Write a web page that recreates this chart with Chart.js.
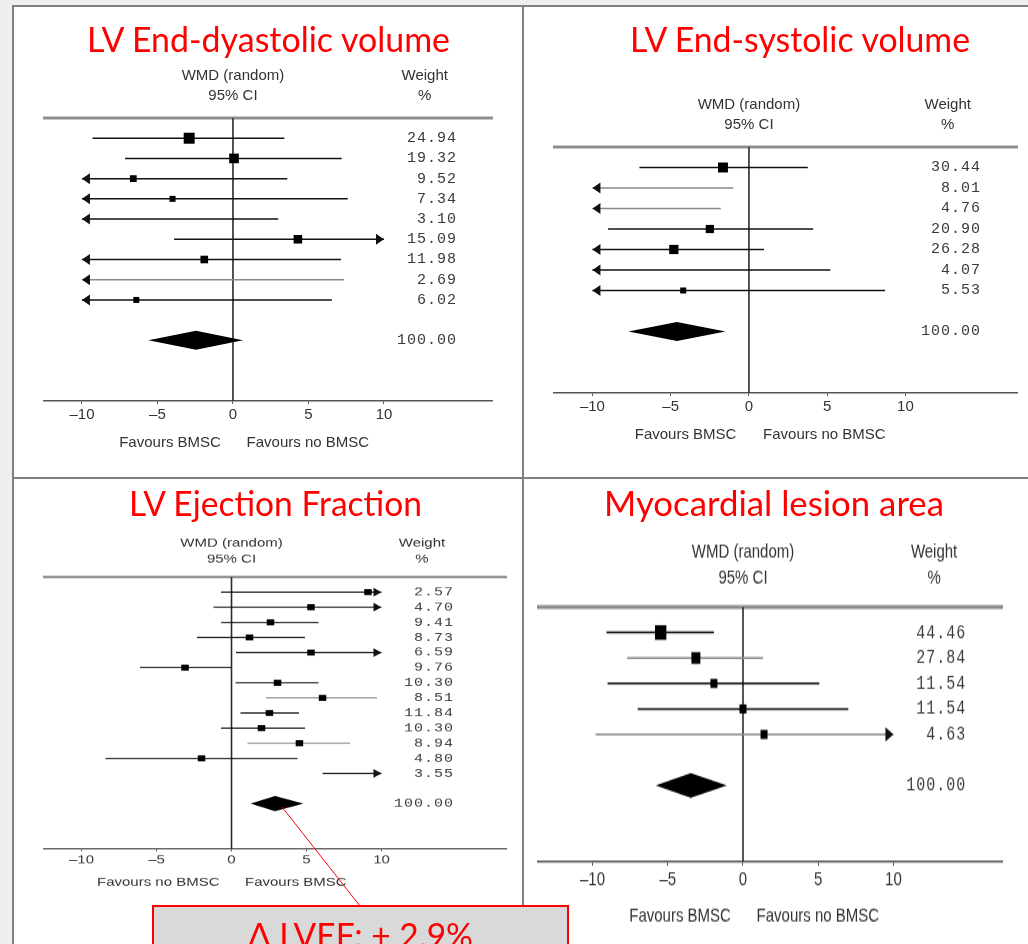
<!DOCTYPE html>
<html>
<head>
<meta charset="utf-8">
<script src="https://cdn.jsdelivr.net/npm/chart.js@4.4.1/dist/chart.umd.min.js"></script>
<style>
  html, body { margin: 0; padding: 0; }
  body {
    width: 1028px; height: 944px; overflow: hidden; position: relative;
    background: #efefef; font-family: 'Liberation Sans', Arial, sans-serif;
  }
  #sheet {
    position: absolute; left: 12px; top: 5px; width: 1100px; height: 1100px;
    background: #fff; border-left: 2px solid #7f7f7f; border-top: 2px solid #7f7f7f;
  }
  .vline { position: absolute; left: 522px; top: 5px; width: 2px; height: 1000px; background: #7f7f7f; }
  .hline { position: absolute; left: 12px; top: 477px; width: 1100px; height: 2px; background: #7f7f7f; }
  .panel { position: absolute; transform-origin: 0 0; }
  .panel canvas { display: block; }
  #overlay { position: absolute; left: 0; top: 0; }
</style>
</head>
<body>
<div id="sheet"></div>
<div class="vline"></div>
<div class="hline"></div>

<div class="panel" id="p-edv"><canvas id="c-edv"></canvas></div>
<div class="panel" id="p-esv"><canvas id="c-esv"></canvas></div>
<div class="panel" id="p-ef"><canvas id="c-ef"></canvas></div>
<div class="panel" id="p-les"><canvas id="c-les"></canvas></div>

<svg id="overlay" width="1028" height="944">
  <g font-family="Lato, 'Open Sans', sans-serif" fill="#ff0000" font-size="34">
    <text x="87" y="52" textLength="363" lengthAdjust="spacingAndGlyphs">LV End-dyastolic volume</text>
    <text x="630" y="52" textLength="340" lengthAdjust="spacingAndGlyphs">LV End-systolic volume</text>
    <text x="129" y="516" textLength="293" lengthAdjust="spacingAndGlyphs">LV Ejection Fraction</text>
    <text x="604" y="516" textLength="340" lengthAdjust="spacingAndGlyphs">Myocardial lesion area</text>
  </g>
  <line x1="282" y1="807" x2="360" y2="906" stroke="#ff0000" stroke-width="1"/>
  <rect x="153" y="906" width="415" height="60" fill="#d9d9d9" stroke="#ff0000" stroke-width="2"/>
  <text x="248" y="948" font-family="Lato, 'Open Sans', sans-serif" font-size="34" fill="#ff0000"
        textLength="225" lengthAdjust="spacingAndGlyphs">Δ LVEF: + 2.9%</text>
</svg>

<script>
// --- Data (null = beyond the -10..10 axis, drawn as an arrow / no box) ---
const tickValues = [-10, -5, 0, 5, 10];

// LV end-diastolic volume
const edvEst = [-2.9, 0.07, -6.6, -4.0, null, 4.3, -1.9, null, -6.4];
const edvLow = [-9.3, -7.15, null, null, null, -3.9, null, null, null];
const edvHigh = [3.4, 7.2, 3.6, 7.6, 3.0, null, 7.15, 7.35, 6.55];
const edvWeight = ['24.94', '19.32', '9.52', '7.34', '3.10', '15.09', '11.98', '2.69', '6.02'];
const edvPooled = [-5.6, -2.45, 0.66];

// LV end-systolic volume
const esvEst = [-1.66, null, null, -2.5, -4.8, null, -4.2];
const esvLow = [-7.0, null, null, -9.0, null, null, null];
const esvHigh = [3.76, -1.0, -1.8, 4.1, 0.96, 5.2, 8.7];
const esvWeight = ['30.44', '8.01', '4.76', '20.90', '26.28', '4.07', '5.53'];
const esvPooled = [-7.7, -4.6, -1.5];

// LV ejection fraction
const efEst = [9.1, 5.3, 2.6, 1.2, 5.3, -3.1, 3.07, 6.07, 2.53, 2.0, 4.53, -2.0, null];
const efLow = [-0.7, -1.2, -0.7, -2.3, 0.3, -6.1, 0.27, 2.3, 0.6, -0.7, 1.07, -8.4, 6.07];
const efHigh = [null, null, 5.8, 4.9, null, 0.0, 5.8, 9.7, 4.5, 4.9, 7.9, 4.4, null];
const efWeight = ['2.57', '4.70', '9.41', '8.73', '6.59', '9.76', '10.30', '8.51', '11.84', '10.30', '8.94', '4.80', '3.55'];
const efPooled = [1.27, 2.9, 4.8];

// Myocardial lesion area
const lesEst = [-5.47, -3.13, -1.93, 0.0, 1.4];
const lesLow = [-9.07, -7.7, -9.0, -7.0, -9.8];
const lesHigh = [-1.93, 1.33, 5.07, 7.0, null];
const lesWeight = ['44.46', '27.84', '11.54', '11.54', '4.63'];
const lesPooled = [-5.8, -3.47, -1.07];

const PAD_TOP = 60;
const AXIS_H = 60;

const panels = [
  { id: 'edv', left: 43, right: 493, headerY: 118, axisY: 401, sy: 1, xMin: -12.58, xMax: 17.22,
    est: edvEst, low: edvLow, high: edvHigh, weight: edvWeight, pooled: edvPooled,
    grey: [7], sq: { k: 2.2, min: 6 }, favours: ['Favours BMSC', 'Favours no BMSC'] },
  { id: 'esv', left: 553, right: 1018, headerY: 147, axisY: 393, sy: 1, xMin: -12.52, xMax: 17.19,
    est: esvEst, low: esvLow, high: esvHigh, weight: esvWeight, pooled: esvPooled,
    grey: [1, 2], sq: { k: 1.8, min: 6 }, favours: ['Favours BMSC', 'Favours no BMSC'] },
  { id: 'ef', left: 43, right: 507, headerY: 577, axisY: 849, sy: 0.8, xMin: -12.57, xMax: 18.37,
    est: efEst, low: efLow, high: efHigh, weight: efWeight, pooled: efPooled,
    grey: [7, 10], sq: { k: 1.5, min: 7.5 }, favours: ['Favours no BMSC', 'Favours BMSC'] },
  { id: 'les', left: 537, right: 1003, headerY: 607, axisY: 862, sy: 1.3, xMin: -13.69, xMax: 17.28,
    est: lesEst, low: lesLow, high: lesHigh, weight: lesWeight, pooled: lesPooled,
    grey: [1, 4], sq: { k: 1.7, min: 7 }, favours: ['Favours BMSC', 'Favours no BMSC'] }
];

function monoText(ctx, str, xRight, y, adv) {
  // fixed-advance text, right aligned, like the old Courier weight column
  let x0 = xRight - str.length * adv;
  ctx.textAlign = 'center';
  for (let i = 0; i < str.length; i++) ctx.fillText(str[i], x0 + adv * (i + 0.5), y);
}

function forestPlugin(p) {
  return {
    id: 'forest-' + p.id,
    afterDraw(chart) {
      const { ctx, chartArea: a } = chart;
      const xs = chart.scales.x, ys = chart.scales.y;
      const px = v => xs.getPixelForValue(v);
      const py = v => ys.getPixelForValue(v);
      const n = p.est.length;

      ctx.save();
      // header rule
      ctx.fillStyle = '#8e8e8e';
      ctx.fillRect(a.left, py(-1) - 1.5, a.right - a.left, 3);

      // line of no effect
      ctx.strokeStyle = '#2b2b2b';
      ctx.lineWidth = 1.6;
      ctx.beginPath();
      ctx.moveTo(px(0), py(-1));
      ctx.lineTo(px(0), a.bottom);
      ctx.stroke();

      // studies
      for (let i = 0; i < n; i++) {
        const y = py(i);
        const x1 = px(p.low[i] == null ? -10 : p.low[i]);
        const x2 = px(p.high[i] == null ? 10 : p.high[i]);
        ctx.strokeStyle = p.grey.includes(i) ? '#8a8a8a' : '#111';
        ctx.lineWidth = 1.5;
        ctx.beginPath();
        ctx.moveTo(x1, y);
        ctx.lineTo(x2, y);
        ctx.stroke();
        ctx.fillStyle = '#111';
        if (p.low[i] == null) {
          ctx.beginPath();
          ctx.moveTo(x1, y);
          ctx.lineTo(x1 + 8, y - 5.5);
          ctx.lineTo(x1 + 8, y + 5.5);
          ctx.closePath();
          ctx.fill();
        }
        if (p.high[i] == null) {
          ctx.beginPath();
          ctx.moveTo(x2, y);
          ctx.lineTo(x2 - 8, y - 5.5);
          ctx.lineTo(x2 - 8, y + 5.5);
          ctx.closePath();
          ctx.fill();
        }
        if (p.est[i] != null) {
          const s = Math.max(p.sq.min, p.sq.k * Math.sqrt(parseFloat(p.weight[i])));
          ctx.fillStyle = '#000';
          ctx.fillRect(px(p.est[i]) - s / 2, y - s / 2, s, s);
        }
      }

      // pooled estimate
      const yd = py(n + 1);
      const [dl, dc, dh] = p.pooled;
      ctx.fillStyle = '#000';
      ctx.beginPath();
      ctx.moveTo(px(dl), yd);
      ctx.lineTo(px(dc), yd - 9.5);
      ctx.lineTo(px(dh), yd);
      ctx.lineTo(px(dc), yd + 9.5);
      ctx.closePath();
      ctx.fill();

      // column headers
      ctx.fillStyle = '#333';
      ctx.font = '15px "Liberation Sans", Arial, sans-serif';
      ctx.textBaseline = 'middle';
      ctx.textAlign = 'center';
      ctx.fillText('WMD (random)', px(0), a.top - 42);
      ctx.fillText('95% CI', px(0), a.top - 22);
      ctx.fillText('Weight', px(12.7), a.top - 42);
      ctx.fillText('%', px(12.7), a.top - 22);

      // weights
      ctx.font = '15px "Liberation Mono", "DejaVu Sans Mono", monospace';
      ctx.fillStyle = '#3a3a3a';
      for (let i = 0; i < n; i++) monoText(ctx, p.weight[i], px(14.8), py(i), 10);
      monoText(ctx, '100.00', px(14.8), yd, 10);

      // favours labels
      ctx.font = '15px "Liberation Sans", Arial, sans-serif';
      ctx.fillStyle = '#333';
      ctx.textAlign = 'right';
      ctx.fillText(p.favours[0], px(-0.8), a.bottom + 42);
      ctx.textAlign = 'left';
      ctx.fillText(p.favours[1], px(0.9), a.bottom + 42);
      ctx.restore();
    }
  };
}

panels.forEach(p => {
  const n = p.est.length;
  const width = p.right - p.left;
  const height = Math.round(PAD_TOP + (p.axisY - p.headerY) / p.sy + AXIS_H);
  const wrap = document.getElementById('p-' + p.id);
  const canvas = document.getElementById('c-' + p.id);
  canvas.width = width;
  canvas.height = height;
  wrap.style.left = p.left + 'px';
  wrap.style.top = (p.headerY - PAD_TOP * p.sy) + 'px';
  wrap.style.transform = 'scaleY(' + p.sy + ')';

  const points = [];
  p.est.forEach((v, i) => { if (v != null) points.push({ x: v, y: i }); });

  new Chart(canvas, {
    type: 'scatter',
    data: { datasets: [{ data: points, pointRadius: 0 }] },
    options: {
      responsive: false,
      animation: false,
      events: [],
      layout: { padding: { top: PAD_TOP, left: 0, right: 0, bottom: 0 } },
      plugins: { legend: { display: false }, tooltip: { enabled: false } },
      scales: {
        x: {
          type: 'linear',
          min: p.xMin,
          max: p.xMax,
          afterBuildTicks: ax => { ax.ticks = tickValues.map(v => ({ value: v })); },
          afterFit: ax => { ax.height = AXIS_H; },
          grid: { drawOnChartArea: false, tickLength: 3, color: '#555' },
          border: { color: '#555', width: 1.5 },
          ticks: {
            color: '#333',
            font: { family: 'Liberation Sans', size: 15 },
            padding: 2,
            maxRotation: 0,
            autoSkip: false,
            callback: v => v < 0 ? '\u2013' + (-v) : String(v)
          }
        },
        y: { type: 'linear', display: false, reverse: true, min: -1, max: n + 4 }
      }
    },
    plugins: [forestPlugin(p)]
  });
});
</script>
</body>
</html>
